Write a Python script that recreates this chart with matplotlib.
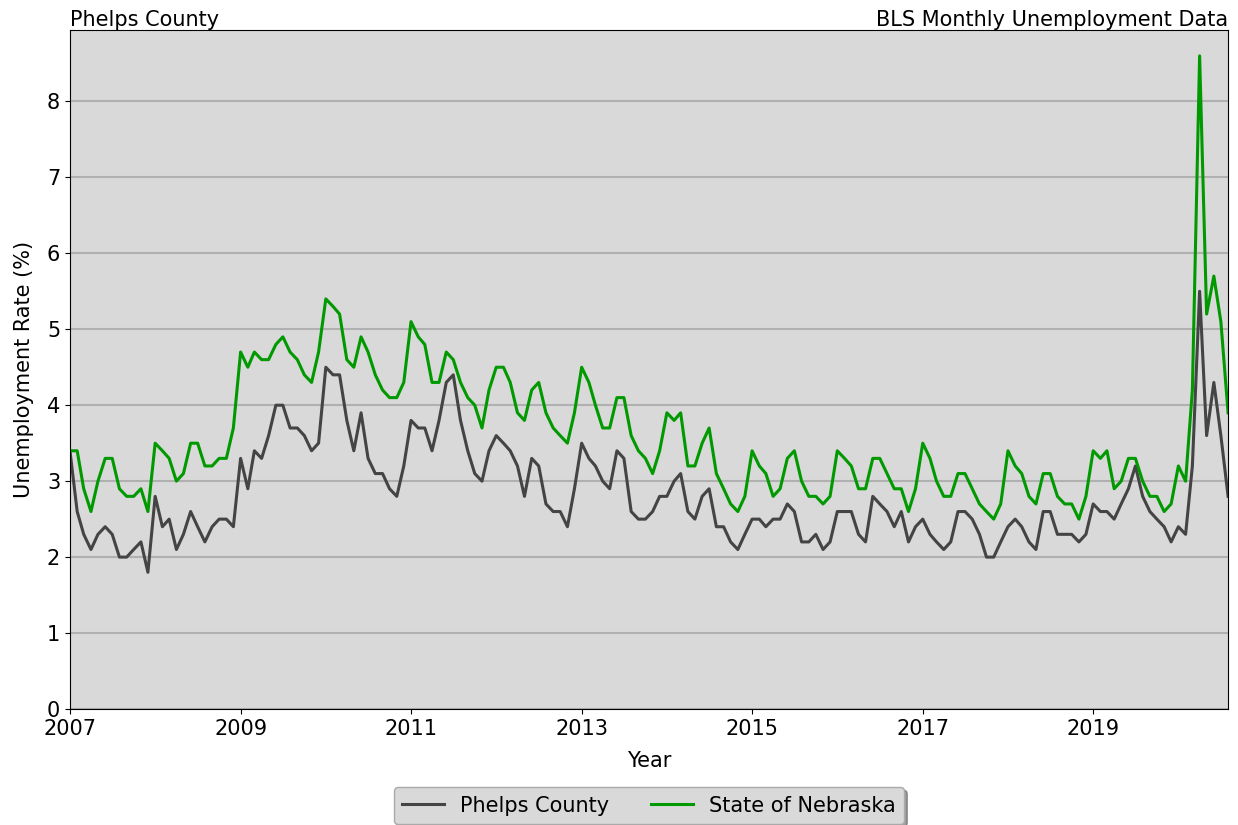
import numpy as np
import pandas as pd
import matplotlib
matplotlib.use('Agg')
import matplotlib.pyplot as plt
import matplotlib.dates as mdates

# monthly rates, Jan 2007 .. Aug 2020
PHELPS = [
    3.4, 2.6, 2.3, 2.1, 2.3, 2.4, 2.3, 2.0, 2.0, 2.1, 2.2, 1.8,   # 2007
    2.8, 2.4, 2.5, 2.1, 2.3, 2.6, 2.4, 2.2, 2.4, 2.5, 2.5, 2.4,   # 2008
    3.3, 2.9, 3.4, 3.3, 3.6, 4.0, 4.0, 3.7, 3.7, 3.6, 3.4, 3.5,   # 2009
    4.5, 4.4, 4.4, 3.8, 3.4, 3.9, 3.3, 3.1, 3.1, 2.9, 2.8, 3.2,   # 2010
    3.8, 3.7, 3.7, 3.4, 3.8, 4.3, 4.4, 3.8, 3.4, 3.1, 3.0, 3.4,   # 2011
    3.6, 3.5, 3.4, 3.2, 2.8, 3.3, 3.2, 2.7, 2.6, 2.6, 2.4, 2.9,   # 2012
    3.5, 3.3, 3.2, 3.0, 2.9, 3.4, 3.3, 2.6, 2.5, 2.5, 2.6, 2.8,   # 2013
    2.8, 3.0, 3.1, 2.6, 2.5, 2.8, 2.9, 2.4, 2.4, 2.2, 2.1, 2.3,   # 2014
    2.5, 2.5, 2.4, 2.5, 2.5, 2.7, 2.6, 2.2, 2.2, 2.3, 2.1, 2.2,   # 2015
    2.6, 2.6, 2.6, 2.3, 2.2, 2.8, 2.7, 2.6, 2.4, 2.6, 2.2, 2.4,   # 2016
    2.5, 2.3, 2.2, 2.1, 2.2, 2.6, 2.6, 2.5, 2.3, 2.0, 2.0, 2.2,   # 2017
    2.4, 2.5, 2.4, 2.2, 2.1, 2.6, 2.6, 2.3, 2.3, 2.3, 2.2, 2.3,   # 2018
    2.7, 2.6, 2.6, 2.5, 2.7, 2.9, 3.2, 2.8, 2.6, 2.5, 2.4, 2.2,   # 2019
    2.4, 2.3, 3.2, 5.5, 3.6, 4.3, 3.6, 2.8,                       # 2020
]
NEBRASKA = [
    3.4, 3.4, 2.9, 2.6, 3.0, 3.3, 3.3, 2.9, 2.8, 2.8, 2.9, 2.6,
    3.5, 3.4, 3.3, 3.0, 3.1, 3.5, 3.5, 3.2, 3.2, 3.3, 3.3, 3.7,
    4.7, 4.5, 4.7, 4.6, 4.6, 4.8, 4.9, 4.7, 4.6, 4.4, 4.3, 4.7,
    5.4, 5.3, 5.2, 4.6, 4.5, 4.9, 4.7, 4.4, 4.2, 4.1, 4.1, 4.3,
    5.1, 4.9, 4.8, 4.3, 4.3, 4.7, 4.6, 4.3, 4.1, 4.0, 3.7, 4.2,
    4.5, 4.5, 4.3, 3.9, 3.8, 4.2, 4.3, 3.9, 3.7, 3.6, 3.5, 3.9,
    4.5, 4.3, 4.0, 3.7, 3.7, 4.1, 4.1, 3.6, 3.4, 3.3, 3.1, 3.4,
    3.9, 3.8, 3.9, 3.2, 3.2, 3.5, 3.7, 3.1, 2.9, 2.7, 2.6, 2.8,
    3.4, 3.2, 3.1, 2.8, 2.9, 3.3, 3.4, 3.0, 2.8, 2.8, 2.7, 2.8,
    3.4, 3.3, 3.2, 2.9, 2.9, 3.3, 3.3, 3.1, 2.9, 2.9, 2.6, 2.9,
    3.5, 3.3, 3.0, 2.8, 2.8, 3.1, 3.1, 2.9, 2.7, 2.6, 2.5, 2.7,
    3.4, 3.2, 3.1, 2.8, 2.7, 3.1, 3.1, 2.8, 2.7, 2.7, 2.5, 2.8,
    3.4, 3.3, 3.4, 2.9, 3.0, 3.3, 3.3, 3.0, 2.8, 2.8, 2.6, 2.7,
    3.2, 3.0, 4.2, 8.6, 5.2, 5.7, 5.1, 3.9,
]
DATES = pd.date_range('2007-01-01', periods=len(PHELPS), freq='MS')
TICK_YEARS = list(range(2007, 2021, 2))

C_COUNTY = '#444444'
C_STATE = '#009900'
BG = '#d9d9d9'
FS = 15

plt.rcParams['font.size'] = FS

fig = plt.figure(figsize=(12.38, 8.25), dpi=100)
ax = fig.add_axes([0.0565, 0.1406, 0.9355, 0.823])
ax.set_facecolor(BG)

ax.plot(DATES, PHELPS, color=C_COUNTY, lw=2.2, label='Phelps County')
ax.plot(DATES, NEBRASKA, color=C_STATE, lw=2.2, label='State of Nebraska')

ax.set_xlim(DATES[0], DATES[-1])
ax.set_ylim(0, 8.94)
ax.set_yticks(range(0, 9))
ax.set_xticks([pd.Timestamp(f'{y}-01-01') for y in TICK_YEARS])
ax.xaxis.set_major_formatter(mdates.DateFormatter('%Y'))
ax.yaxis.grid(True, color='#b0b0b0', lw=1.5)
ax.set_axisbelow(True)
ax.tick_params(labelsize=FS)

ax.set_xlabel('Year', fontsize=FS, labelpad=9)
ax.set_ylabel('Unemployment Rate (%)', fontsize=FS, labelpad=9)
ax.set_title('Phelps County', loc='left', fontsize=FS, pad=1)
ax.set_title('BLS Monthly Unemployment Data', loc='right', fontsize=FS, pad=1)

leg = ax.legend(loc='upper center', bbox_to_anchor=(0.5, -0.1), ncol=2,
                fontsize=FS, shadow=True, fancybox=True, framealpha=1,
                facecolor=BG, edgecolor='#aaaaaa', columnspacing=2.0)

fig.savefig('out.png', dpi=100)
